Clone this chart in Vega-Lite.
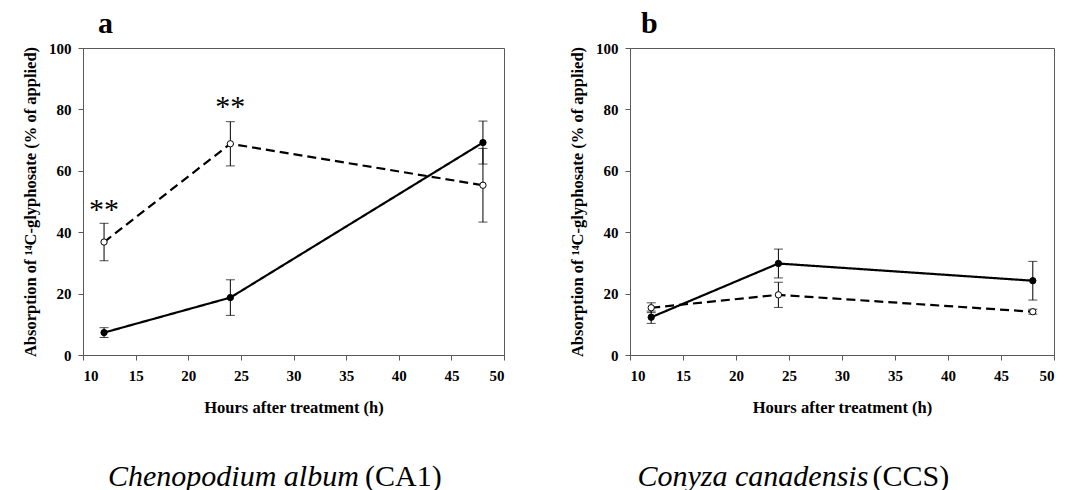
{
  "$schema": "https://vega.github.io/schema/vega-lite/v6.json",
  "padding": {"left": 22, "top": 8, "right": 5, "bottom": 0},
  "spacing": 64,
  "datasets": {
    "a": [
      {"group": "G1", "hours": 12, "mean": 7.3, "err": 1.6},
      {"group": "G1", "hours": 24, "mean": 18.7, "err": 5.8},
      {"group": "G1", "hours": 48, "mean": 69.2, "err": 7.0},
      {"group": "G2", "hours": 12, "mean": 36.8, "err": 6.1},
      {"group": "G2", "hours": 24, "mean": 68.8, "err": 7.2},
      {"group": "G2", "hours": 48, "mean": 55.3, "err": 12.0}
    ],
    "b": [
      {"group": "G1", "hours": 12, "mean": 12.3, "err": 2.0},
      {"group": "G1", "hours": 24, "mean": 29.8, "err": 4.7},
      {"group": "G1", "hours": 48, "mean": 24.2, "err": 6.3},
      {"group": "G2", "hours": 12, "mean": 15.4, "err": 1.6},
      {"group": "G2", "hours": 24, "mean": 19.6, "err": 4.1},
      {"group": "G2", "hours": 48, "mean": 14.1, "err": 0.8}
    ],
    "stars": [
      {"hours": 12, "mean": 44.2, "label": "**"},
      {"hours": 24, "mean": 78.0, "label": "**"}
    ]
  },
  "hconcat": [
    {
      "title": {"text": "(CA1)", "orient": "bottom", "anchor": "start", "frame": "bounds", "fontSize": 30, "fontWeight": "normal", "offset": -30, "dx": 343},
      "hconcat": [
        {
          "title": {"text": "Chenopodium album", "orient": "bottom", "anchor": "start", "frame": "bounds", "fontStyle": "italic", "fontSize": 30, "fontWeight": "normal", "offset": 45.5, "dx": 86},
          "hconcat": [
            {
              "width": 421,
              "height": 307,
              "title": {"text": "a", "anchor": "start", "frame": "group", "fontSize": 30, "fontWeight": "bold", "dx": 15, "offset": 2.5},
              "encoding": {
                "x": {"field": "hours", "type": "quantitative", "scale": {"domain": [10, 50], "nice": false, "zero": false}, "axis": {"values": [10, 15, 20, 25, 30, 35, 40, 45, 50], "title": "Hours after treatment (h)", "labelPadding": 8, "titlePadding": 16}}
              },
              "layer": [
                {
                  "data": {"name": "a"},
                  "mark": {"type": "errorbar", "color": "black", "ticks": {"size": 9, "color": "black"}, "rule": {"strokeWidth": 1, "color": "black"}},
                  "encoding": {
                    "y": {"field": "mean", "type": "quantitative", "scale": {"domain": [0, 100], "nice": false}, "axis": {"values": [0, 20, 40, 60, 80, 100], "title": "Absorption of ¹⁴C-glyphosate (% of applied)", "labelPadding": 7, "titlePadding": 10}},
                    "yError": {"field": "err"},
                    "detail": {"field": "group"}
                  }
                },
                {
                  "data": {"name": "a"},
                  "mark": {"type": "line", "color": "black", "strokeWidth": 2.2},
                  "encoding": {
                    "y": {"field": "mean", "type": "quantitative"},
                    "strokeDash": {"field": "group", "type": "nominal", "scale": {"domain": ["G1", "G2"], "range": [[1, 0], [9, 5]]}, "legend": null}
                  }
                },
                {
                  "data": {"name": "a"},
                  "mark": {"type": "point", "filled": true, "size": 40, "stroke": "black", "strokeWidth": 1, "opacity": 1},
                  "encoding": {
                    "y": {"field": "mean", "type": "quantitative"},
                    "fill": {"field": "group", "type": "nominal", "scale": {"domain": ["G1", "G2"], "range": ["black", "white"]}, "legend": null}
                  }
                },
                {
                  "data": {"name": "stars"},
                  "mark": {"type": "text", "fontSize": 30, "baseline": "alphabetic", "font": "Liberation Serif", "color": "black"},
                  "encoding": {
                    "y": {"field": "mean", "type": "quantitative"},
                    "text": {"field": "label"}
                  }
                }
              ]
            }
          ]
        }
      ]
    },
    {
      "title": {"text": "(CCS)", "orient": "bottom", "anchor": "start", "frame": "bounds", "fontSize": 30, "fontWeight": "normal", "offset": -30, "dx": 303.5},
      "hconcat": [
        {
          "title": {"text": "Conyza canadensis", "orient": "bottom", "anchor": "start", "frame": "bounds", "fontStyle": "italic", "fontSize": 30, "fontWeight": "normal", "offset": 45.5, "dx": 68.5},
          "hconcat": [
            {
              "width": 424,
              "height": 307,
              "title": {"text": "b", "anchor": "start", "frame": "group", "fontSize": 30, "fontWeight": "bold", "dx": 11, "offset": 2.5},
              "encoding": {
                "x": {"field": "hours", "type": "quantitative", "scale": {"domain": [10, 50], "nice": false, "zero": false}, "axis": {"values": [10, 15, 20, 25, 30, 35, 40, 45, 50], "title": "Hours after treatment (h)", "labelPadding": 8, "titlePadding": 16}}
              },
              "layer": [
                {
                  "data": {"name": "b"},
                  "mark": {"type": "errorbar", "color": "black", "ticks": {"size": 9, "color": "black"}, "rule": {"strokeWidth": 1, "color": "black"}},
                  "encoding": {
                    "y": {"field": "mean", "type": "quantitative", "scale": {"domain": [0, 100], "nice": false}, "axis": {"values": [0, 20, 40, 60, 80, 100], "title": "Absorption of ¹⁴C-glyphosate (% of applied)", "labelPadding": 7, "titlePadding": 10}},
                    "yError": {"field": "err"},
                    "detail": {"field": "group"}
                  }
                },
                {
                  "data": {"name": "b"},
                  "mark": {"type": "line", "color": "black", "strokeWidth": 2.2},
                  "encoding": {
                    "y": {"field": "mean", "type": "quantitative"},
                    "strokeDash": {"field": "group", "type": "nominal", "scale": {"domain": ["G1", "G2"], "range": [[1, 0], [9, 5]]}, "legend": null}
                  }
                },
                {
                  "data": {"name": "b"},
                  "mark": {"type": "point", "filled": true, "size": 40, "stroke": "black", "strokeWidth": 1, "opacity": 1},
                  "encoding": {
                    "y": {"field": "mean", "type": "quantitative"},
                    "fill": {"field": "group", "type": "nominal", "scale": {"domain": ["G1", "G2"], "range": ["black", "white"]}, "legend": null}
                  }
                }
              ]
            }
          ]
        }
      ]
    }
  ],
  "config": {
    "font": "Liberation Serif",
    "background": "white",
    "view": {"stroke": "#595959", "strokeWidth": 1},
    "axis": {
      "grid": false,
      "domainColor": "#595959",
      "tickColor": "#595959",
      "tickSize": 5,
      "labelFont": "Liberation Serif",
      "labelFontSize": 15,
      "labelFontWeight": "bold",
      "labelColor": "black",
      "titleFont": "Liberation Serif",
      "titleFontSize": 16.5,
      "titleFontWeight": "bold",
      "titleColor": "black"
    },
    "title": {"font": "Liberation Serif", "color": "black"}
  }
}
